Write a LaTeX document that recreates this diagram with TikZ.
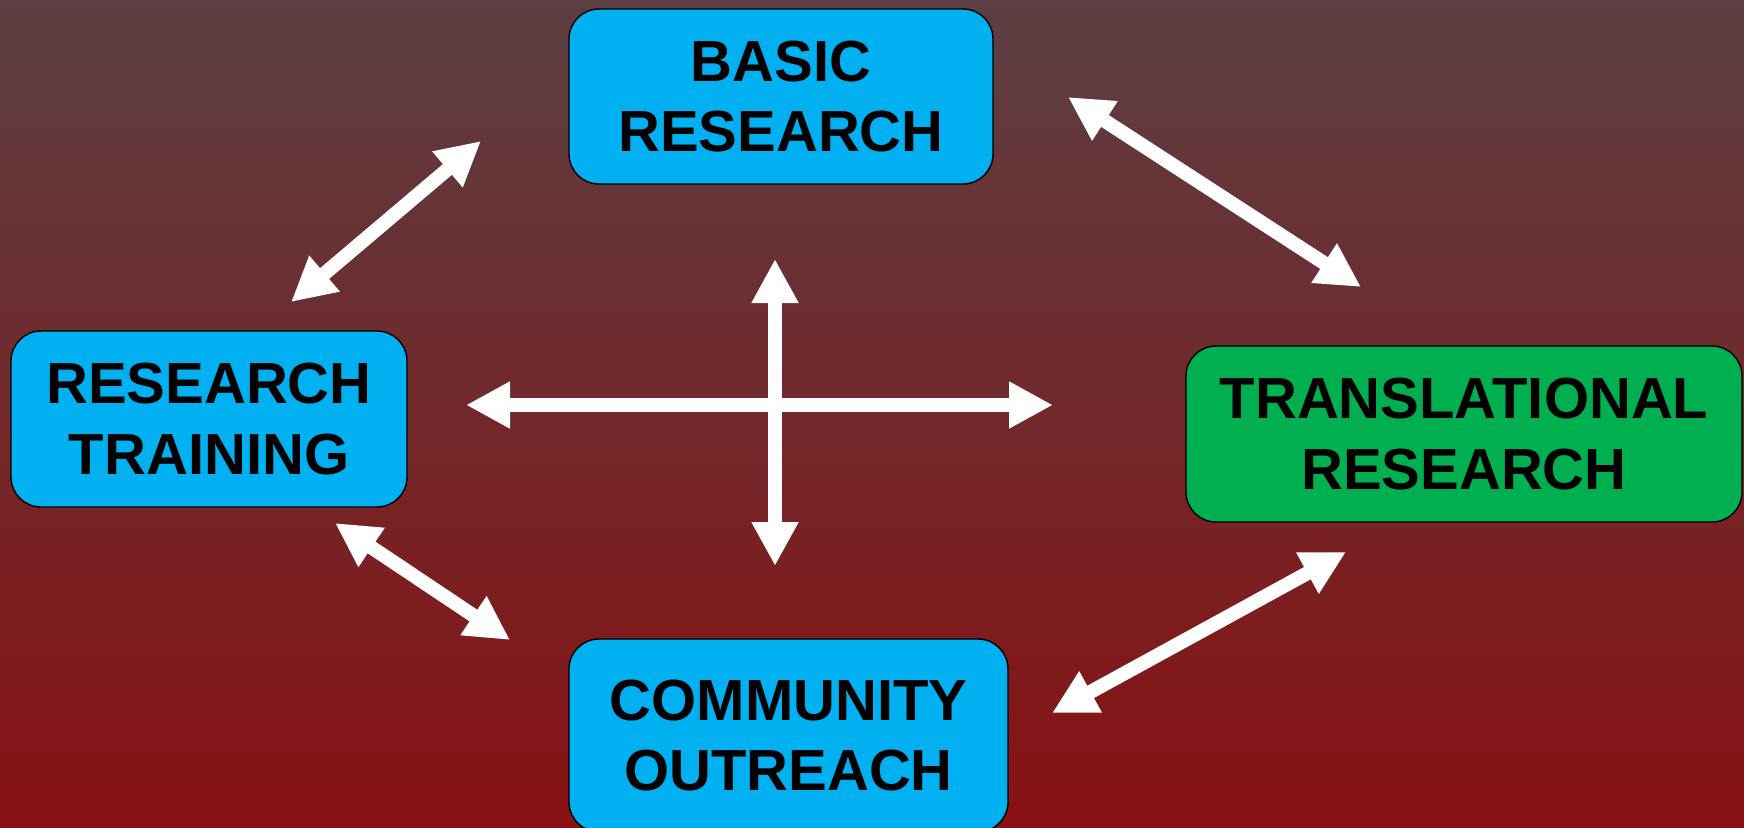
\documentclass[tikz,border=0pt]{standalone}
\usepackage{fontspec}
\setmainfont{Liberation Sans}
\usetikzlibrary{arrows.meta}

\definecolor{fondhaut}{RGB}{91,63,66}
\definecolor{fondbas}{RGB}{136,17,19}
\definecolor{bleuboite}{RGB}{0,176,240}
\definecolor{vertboite}{RGB}{0,176,80}

\tikzset{
  boite/.style={draw=black, thin, rounded corners=0.3cm, align=center,
    font=\bfseries\fontsize{16.5}{20}\selectfont, inner sep=0pt},
  fleche/.style={white, line width=0.14cm,
    {Triangle[length=0.44cm,width=0.44cm]}-{Triangle[length=0.44cm,width=0.44cm]}}
}

\begin{document}
\begin{tikzpicture}
\useasboundingbox (0,0) rectangle (17.44,8.27);
%fond en degrade
\shade [top color=fondhaut, bottom color=fondbas] (0,0) rectangle (17.44,8.27);

%les quatre boites
\node[boite, fill=bleuboite, minimum width=4.24cm, minimum height=1.75cm] (basic) at (7.81,7.305) {BASIC\\RESEARCH};
\node[boite, fill=bleuboite, minimum width=3.96cm, minimum height=1.76cm] (training) at (2.09,4.08) {RESEARCH\\TRAINING};
\node[boite, fill=vertboite, minimum width=5.56cm, minimum height=1.76cm] (transl) at (14.64,3.93) {TRANSLATIONAL\\RESEARCH};
\node[boite, fill=bleuboite, minimum width=4.39cm, minimum height=1.93cm] (outreach) at (7.885,0.915) {COMMUNITY\\OUTREACH};

%extremites des fleches
\coordinate (tb1) at (2.91,5.25);   \coordinate (tb2) at (4.81,6.86);
\coordinate (bt1) at (10.68,7.30);  \coordinate (bt2) at (13.61,5.40);
\coordinate (to1) at (3.35,3.04);   \coordinate (to2) at (5.10,1.87);
\coordinate (ot1) at (10.52,1.14);  \coordinate (ot2) at (13.46,2.75);
\coordinate (hg) at (4.66,4.22);    \coordinate (hd) at (10.53,4.22);
\coordinate (vh) at (7.75,5.68);    \coordinate (vb) at (7.75,2.61);

%fleches doubles
\draw[fleche] (tb1) -- (tb2);
\draw[fleche] (bt1) -- (bt2);
\draw[fleche] (to1) -- (to2);
\draw[fleche] (ot1) -- (ot2);
\draw[fleche] (hg) -- (hd);
\draw[fleche] (vh) -- (vb);

\end{tikzpicture}
\end{document}
